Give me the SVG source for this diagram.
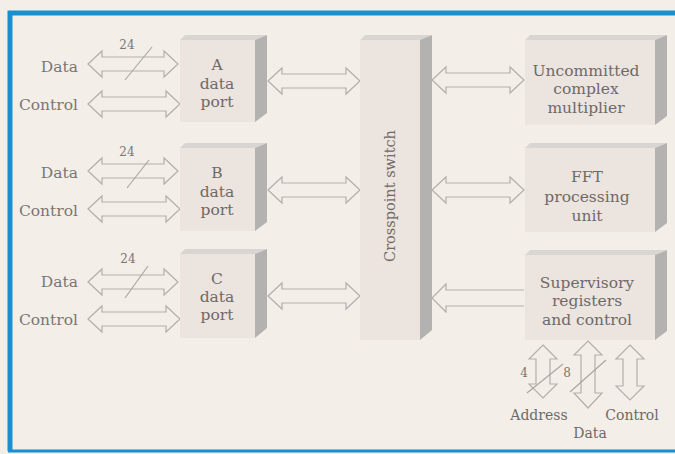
<svg xmlns="http://www.w3.org/2000/svg" width="675" height="454" viewBox="0 0 675 454">
<style>
  .bg{fill:#f3eee8}
  .front{fill:#ece4df}
  .top{fill:#d9d5d2}
  .side{fill:#b4b2b1}
  .t{font-family:"DejaVu Serif","Liberation Serif",serif;font-size:15.5px;fill:#6e6a68;text-anchor:middle}
  .lbl{font-family:"DejaVu Serif","Liberation Serif",serif;font-size:15.5px;fill:#7a7674;text-anchor:end}
  .num{font-family:"DejaVu Serif","Liberation Serif",serif;font-size:12px;fill:#7a7674;text-anchor:middle}
  .arr{fill:none;stroke:#b3afad;stroke-width:1.2;stroke-linejoin:miter}
  .sl{stroke:#a8a4a2;stroke-width:1.1;fill:none}
</style>
<rect class="bg" x="0" y="0" width="675" height="454"/>
<path d="M10,451 V13 H675" fill="none" stroke="#1a8fcf" stroke-width="5"/>
<line x1="8" y1="451" x2="675" y2="451" stroke="#1a8fcf" stroke-width="3"/>

<g id="connectors">
  <!-- left port arrows -->
  <path class="arr" d="M88,64 L102,51 L102,57 L164,57 L164,51 L178,64 L164,77 L164,71 L102,71 L102,77 Z"/>
  <path class="arr" d="M88,104 L102,91 L102,97 L166,97 L166,91 L180,104 L166,117 L166,111 L102,111 L102,117 Z"/>
  <path class="arr" d="M88,171 L102,158 L102,164 L164,164 L164,158 L178,171 L164,184 L164,178 L102,178 L102,184 Z"/>
  <path class="arr" d="M88,209 L102,196 L102,202 L166,202 L166,196 L180,209 L166,222 L166,216 L102,216 L102,222 Z"/>
  <path class="arr" d="M88,282 L102,269 L102,275 L164,275 L164,269 L178,282 L164,295 L164,289 L102,289 L102,295 Z"/>
  <path class="arr" d="M88,319 L102,306 L102,312 L166,312 L166,306 L180,319 L166,332 L166,326 L102,326 L102,332 Z"/>
  <!-- bus width slashes -->
  <line class="sl" x1="125" y1="80" x2="152" y2="47"/>
  <line class="sl" x1="127" y1="188" x2="149" y2="160"/>
  <line class="sl" x1="125" y1="298" x2="148" y2="266"/>
  <!-- port to crosspoint -->
  <path class="arr" d="M268,81 L282,68 L282,74 L346,74 L346,68 L360,81 L346,94 L346,88 L282,88 L282,94 Z"/>
  <path class="arr" d="M268,190 L282,177 L282,183 L346,183 L346,177 L360,190 L346,203 L346,197 L282,197 L282,203 Z"/>
  <path class="arr" d="M268,296 L282,283 L282,289 L346,289 L346,283 L360,296 L346,309 L346,303 L282,303 L282,309 Z"/>
  <!-- crosspoint to right blocks -->
  <path class="arr" d="M432,80 L446,67 L446,73 L510,73 L510,67 L524,80 L510,93 L510,87 L446,87 L446,93 Z"/>
  <path class="arr" d="M432,190 L446,177 L446,183 L510,183 L510,177 L524,190 L510,203 L510,197 L446,197 L446,203 Z"/>
  <path class="arr" d="M524,290 L446,290 L446,284 L432,298 L446,312 L446,306 L524,306"/>
  <!-- supervisory bottom arrows -->
  <path class="arr" d="M543,345 L557,359 L550,359 L550,384 L557,384 L543,398 L529,384 L536,384 L536,359 L529,359 Z"/>
  <path class="arr" d="M588,341 L602,355 L595,355 L595,393 L602,393 L588,408 L574,393 L581,393 L581,355 L574,355 Z"/>
  <path class="arr" d="M630,345 L644,359 L637,359 L637,386 L644,386 L630,400 L616,386 L623,386 L623,359 L616,359 Z"/>
  <line class="sl" x1="527" y1="393" x2="563" y2="364"/>
  <line class="sl" x1="570" y1="392" x2="606" y2="360"/>
</g>

<g id="labels-left">
  <text class="num" x="127" y="49">24</text>
  <text class="lbl" x="78" y="72">Data</text>
  <text class="lbl" x="78" y="110">Control</text>
  <text class="num" x="127" y="156">24</text>
  <text class="lbl" x="78" y="178">Data</text>
  <text class="lbl" x="78" y="216">Control</text>
  <text class="num" x="128" y="263">24</text>
  <text class="lbl" x="78" y="287">Data</text>
  <text class="lbl" x="78" y="325">Control</text>
</g>

<g id="portA">
  <polygon class="top" points="180,40 185,35 267,35 255,40"/>
  <polygon class="side" points="255,40 267,35 267,113 255,122"/>
  <rect class="front" x="180" y="40" width="75" height="82"/>
  <text class="t" x="217" y="70">A</text>
  <text class="t" x="217" y="89">data</text>
  <text class="t" x="217" y="107">port</text>
</g>
<g id="portB">
  <polygon class="top" points="180,148 185,143 267,143 255,148"/>
  <polygon class="side" points="255,148 267,143 267,222 255,231"/>
  <rect class="front" x="180" y="148" width="75" height="83"/>
  <text class="t" x="217" y="178">B</text>
  <text class="t" x="217" y="197">data</text>
  <text class="t" x="217" y="215">port</text>
</g>
<g id="portC">
  <polygon class="top" points="180,254 185,249 267,249 255,254"/>
  <polygon class="side" points="255,254 267,249 267,328 255,338"/>
  <rect class="front" x="180" y="254" width="75" height="84"/>
  <text class="t" x="217" y="284">C</text>
  <text class="t" x="217" y="302">data</text>
  <text class="t" x="217" y="320">port</text>
</g>
<g id="crosspoint">
  <polygon class="top" points="360,40 365,35 432,35 420,40"/>
  <polygon class="side" points="420,40 432,35 432,330 420,340"/>
  <rect class="front" x="360" y="40" width="60" height="300"/>
  <text class="t" style="font-size:14.5px" transform="translate(395,196) rotate(-90)">Crosspoint switch</text>
</g>
<g id="multiplier">
  <polygon class="top" points="525,40 530,35 667,35 655,40"/>
  <polygon class="side" points="655,40 667,35 667,116 655,125"/>
  <rect class="front" x="525" y="40" width="130" height="85"/>
  <text class="t" x="586" y="76">Uncommitted</text>
  <text class="t" x="586" y="94">complex</text>
  <text class="t" x="586" y="113">multiplier</text>
</g>
<g id="fft">
  <polygon class="top" points="525,148 530,143 667,143 655,148"/>
  <polygon class="side" points="655,148 667,143 667,223 655,232"/>
  <rect class="front" x="525" y="148" width="130" height="84"/>
  <text class="t" x="587" y="182">FFT</text>
  <text class="t" x="587" y="202">processing</text>
  <text class="t" x="587" y="221">unit</text>
</g>
<g id="supervisory">
  <polygon class="top" points="525,255 530,250 667,250 655,255"/>
  <polygon class="side" points="655,255 667,250 667,331 655,340"/>
  <rect class="front" x="525" y="255" width="130" height="85"/>
  <text class="t" x="587" y="288">Supervisory</text>
  <text class="t" x="587" y="306">registers</text>
  <text class="t" x="587" y="325">and control</text>
</g>
<g id="labels-bottom">
  <text class="num" x="524" y="377" style="font-size:12px">4</text>
  <text class="num" x="567" y="377" style="font-size:12px">8</text>
  <text class="t" style="font-size:14px" x="539" y="420">Address</text>
  <text class="t" style="font-size:14px" x="632" y="420">Control</text>
  <text class="t" style="font-size:14px" x="590" y="438">Data</text>
</g>
</svg>
